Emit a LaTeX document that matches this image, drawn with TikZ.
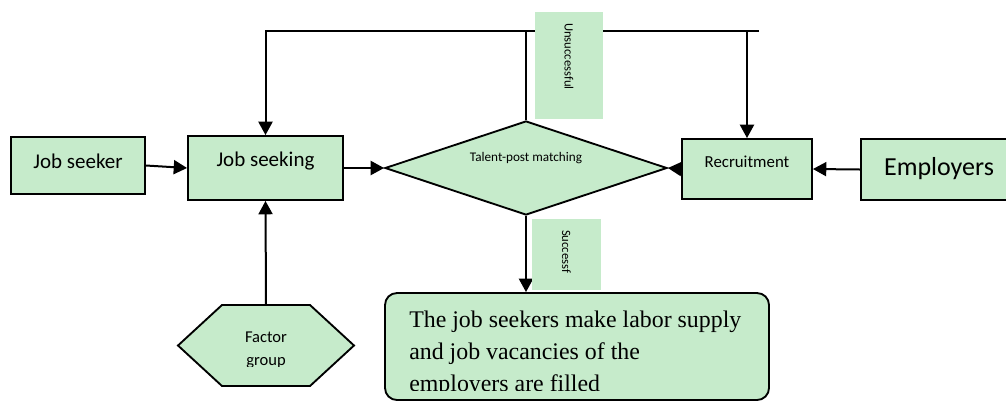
\documentclass[tikz,border=0pt]{standalone}
\usepackage{fontspec}
\setmainfont{Carlito}
\newfontfamily\timesfont{Liberation Serif}
\usetikzlibrary{arrows.meta,shapes.geometric}
\definecolor{color_box}{RGB}{198,235,203}

\begin{document}
\begin{tikzpicture}[
    x=0.75pt, y=-0.75pt,
    every node/.style={font=\fontsize{12.5}{15}\selectfont},
    greenbox/.style={draw, line width=1.4pt, fill=color_box, inner sep=0pt},
    branchtag/.style={fill=color_box, rotate=-90, inner xsep=8.25pt, inner ysep=0pt,
        align=left, font=\fontsize{9.5}{11}\selectfont},
    trianglearrow/.style={-{Triangle[length=10pt,width=10.5pt]}, line width=1.5pt}
]
    % canvas in pixel units, 1006 x 401
    \useasboundingbox (0,0) rectangle (1006,401);
    \clip (0,0) rectangle (1006,401);

    % main row
    \node[greenbox, minimum width=100.5pt, minimum height=42.75pt,
        font=\fontsize{15.75}{18}\selectfont, text height=10pt, text depth=5pt]
        (seeker) at (78,165.5) {Job seeker};
    \node[greenbox, minimum width=116.25pt, minimum height=48pt,
        font=\fontsize{15.75}{18}\selectfont, text height=10pt, text depth=12pt]
        (seeking) at (265.5,168) {Job seeking};
    \node[greenbox, diamond, aspect=3, minimum width=211.5pt, minimum height=70.5pt,
        font=\fontsize{9.9}{12}\selectfont, text height=7pt, text depth=16.4pt]
        (match) at (526,168) {Talent-post matching};
    \node[greenbox, minimum width=97.5pt, minimum height=45pt,
        font=\fontsize{12.6}{15}\selectfont, text height=8pt, text depth=11pt]
        (recruit) at (747,169) {Recruitment};
    \node[greenbox, minimum width=117pt, minimum height=45.75pt,
        font=\fontsize{19.5}{23}\selectfont, text height=14pt, text depth=4.5pt]
        (employers) at (939,169.5) {Employers};

    % factor group (hexagon), text cut at the frame
    \filldraw[greenbox] (178,345.5) -- (222,305) -- (310,305) -- (354,345.5)
        -- (310,386) -- (222,386) -- cycle;
    \begin{scope}
        \clip (178,305) rectangle (354,366);
        \node[minimum width=132pt, minimum height=60.75pt, inner sep=0pt, align=center,
            font=\fontsize{12.4}{17.25}\selectfont, text height=31pt, text depth=1.75pt]
            (factor) at (266,345.5) {Factor\\group};
    \end{scope}

    % outcome box
    \node[greenbox, rounded corners=9pt, minimum width=288pt, minimum height=80.25pt]
        (result) at (577,346.5) {};
    \begin{scope}
        \clip (385,293) rectangle (769,390.5);
        \node[anchor=north west, inner sep=0pt, align=left,
            font=\timesfont\fontsize{17.9}{24}\selectfont]
            (resulttext) at (409,311) {The job seekers make labor supply\\and job vacancies of the\\employers are filled};
    \end{scope}

    % connectors
    \draw[trianglearrow] (seeker.east) -- (seeking.west);
    \draw[trianglearrow] (seeking.east) -- (match.west);
    \draw[trianglearrow] (recruit.west) -- (match.east);
    \draw[trianglearrow] (employers.west) -- (recruit.east);
    \draw[trianglearrow] (factor.north) -- (seeking.south);
    \draw[trianglearrow] (match.south) -- (match.south |- result.north);

    % loop back when matching fails
    \coordinate (loopend) at (759,31);
    \draw[trianglearrow] (loopend) -| (seeking.north);
    \draw[trianglearrow] (recruit.north |- loopend) -- (recruit.north);
    \draw[line width=1.5pt] (match.north) -- (match.north |- loopend);

    % branch tags
    \node[branchtag, minimum width=80.25pt, minimum height=51pt, text width=63.75pt]
        (failtag) at (569,65.5) {Unsuccessful};
    \node[branchtag, minimum width=53.25pt, minimum height=51.75pt, text width=36.75pt]
        (passtag) at (566.5,254.5) {Successf};

\end{tikzpicture}
\end{document}
